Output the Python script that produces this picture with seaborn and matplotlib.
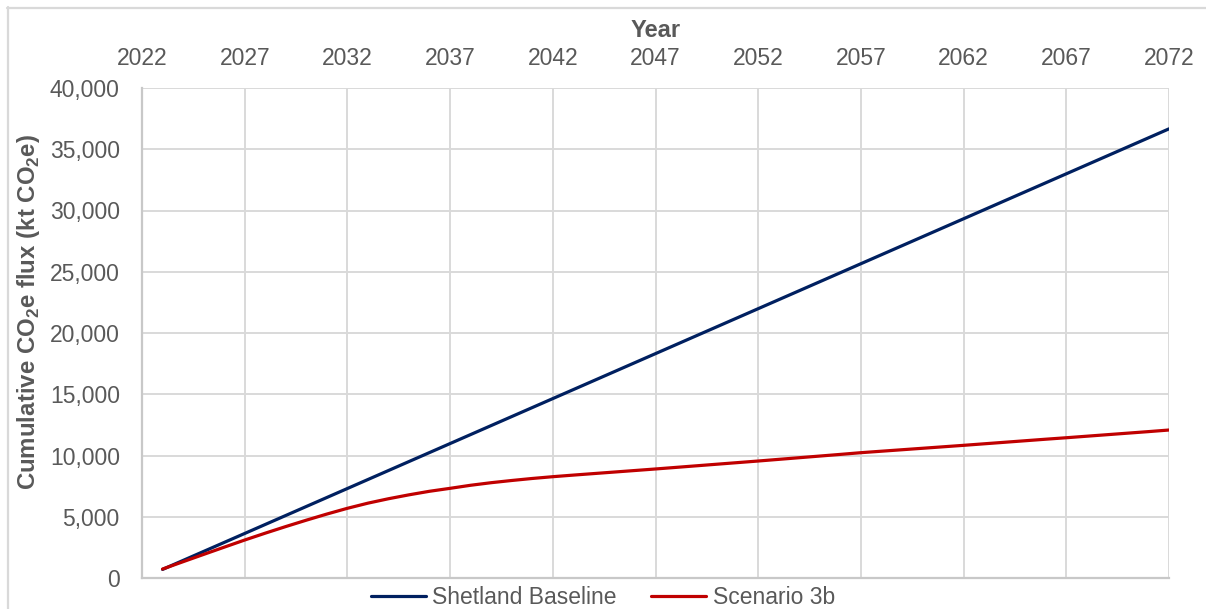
import numpy as np
import pandas as pd
import matplotlib
matplotlib.use("Agg")
import matplotlib.pyplot as plt
import seaborn as sns
from matplotlib.lines import Line2D
from matplotlib.ticker import FuncFormatter, MultipleLocator

years = list(range(2023, 2073))
baseline = [700, 1434, 2168, 2902, 3636, 4370, 5104, 5838, 6572, 7306,
            8040, 8774, 9508, 10242, 10976, 11710, 12444, 13178, 13912, 14646,
            15380, 16114, 16848, 17582, 18316, 19050, 19784, 20518, 21252, 21986,
            22720, 23454, 24188, 24922, 25656, 26390, 27124, 27858, 28592, 29326,
            30060, 30794, 31528, 32262, 32996, 33730, 34464, 35198, 35932, 36666]
scenario_3b = [730, 1330, 1925, 2515, 3100, 3660, 4200, 4720, 5220, 5690,
               6110, 6470, 6790, 7080, 7320, 7570, 7780, 7960, 8125, 8270,
               8400, 8525, 8650, 8775, 8900, 9030, 9160, 9290, 9420, 9550,
               9685, 9820, 9955, 10090, 10230, 10350, 10470, 10590, 10710, 10830,
               10955, 11080, 11205, 11330, 11450, 11575, 11700, 11825, 11950, 12080]
series_names = ["Shetland Baseline", "Scenario 3b"]
colors = ["#002060", "#C00000"]
x_ticks = list(range(2022, 2073, 5))

df = pd.DataFrame({
    "Year": years * 2,
    "Value": baseline + scenario_3b,
    "Series": [series_names[0]] * len(years) + [series_names[1]] * len(years),
})

sns.set_style("white")
plt.rcParams["font.family"] = ["Liberation Sans", "DejaVu Sans"]
plt.rcParams["mathtext.fontset"] = "custom"
plt.rcParams["mathtext.rm"] = "Liberation Sans"
plt.rcParams["mathtext.bf"] = "Liberation Sans:bold"

fig = plt.figure(figsize=(12.06, 6.09), dpi=100)
ax = fig.add_axes([142/1206, 1 - 578/609, (1169-142)/1206, (578-88)/609])

sns.lineplot(data=df, x="Year", y="Value", hue="Series", palette=colors,
             hue_order=series_names, linewidth=2.3, ax=ax, legend=False)

ax.set_xlim(2022, 2072)
ax.set_ylim(0, 40000)
ax.set_xticks(x_ticks)
ax.yaxis.set_major_locator(MultipleLocator(5000))
ax.yaxis.set_major_formatter(FuncFormatter(lambda v, p: f"{int(v):,}"))
ax.xaxis.tick_top()
ax.xaxis.set_label_position("top")
ax.tick_params(axis="x", length=0, pad=13, labelsize=16.5, labelcolor="#595959")
ax.tick_params(axis="y", length=0, pad=16, labelsize=16.5, labelcolor="#595959")

ax.grid(True, color="#d9d9d9", linewidth=1.4)
ax.set_axisbelow(True)
for s in ["top", "right"]:
    ax.spines[s].set_visible(False)
for s in ["left", "bottom"]:
    ax.spines[s].set_color("#c8c8c8")
    ax.spines[s].set_linewidth(1.6)

ax.set_xlabel("Year", fontsize=17, fontweight="bold", color="#595959", labelpad=7)
ax.set_ylabel(r"Cumulative CO$_\mathbf{2}$e flux (kt CO$_\mathbf{2}$e)",
              fontsize=17.3, fontweight="bold", color="#595959")
ax.yaxis.set_label_coords(-0.097, 0.543)

handles = [Line2D([0], [0], color=c, linewidth=2.3) for c in colors]
fig.legend(handles, series_names, loc="center", bbox_to_anchor=(0.5, 1 - 598/609),
           ncol=2, frameon=False, fontsize=16.5, labelcolor="#595959",
           handlelength=2.4, handletextpad=0.3, columnspacing=1.5,
           borderpad=0, borderaxespad=0)

# chart area border (left and top visible)
fig.add_artist(Line2D([7.5/1206, 7.5/1206], [0, 1 - 7/609], transform=fig.transFigure,
                      color="#d9d9d9", linewidth=1.6))
fig.add_artist(Line2D([7/1206, 1], [1 - 7.5/609, 1 - 7.5/609], transform=fig.transFigure,
                      color="#d9d9d9", linewidth=1.6))

fig.savefig("out.png", dpi=100)
